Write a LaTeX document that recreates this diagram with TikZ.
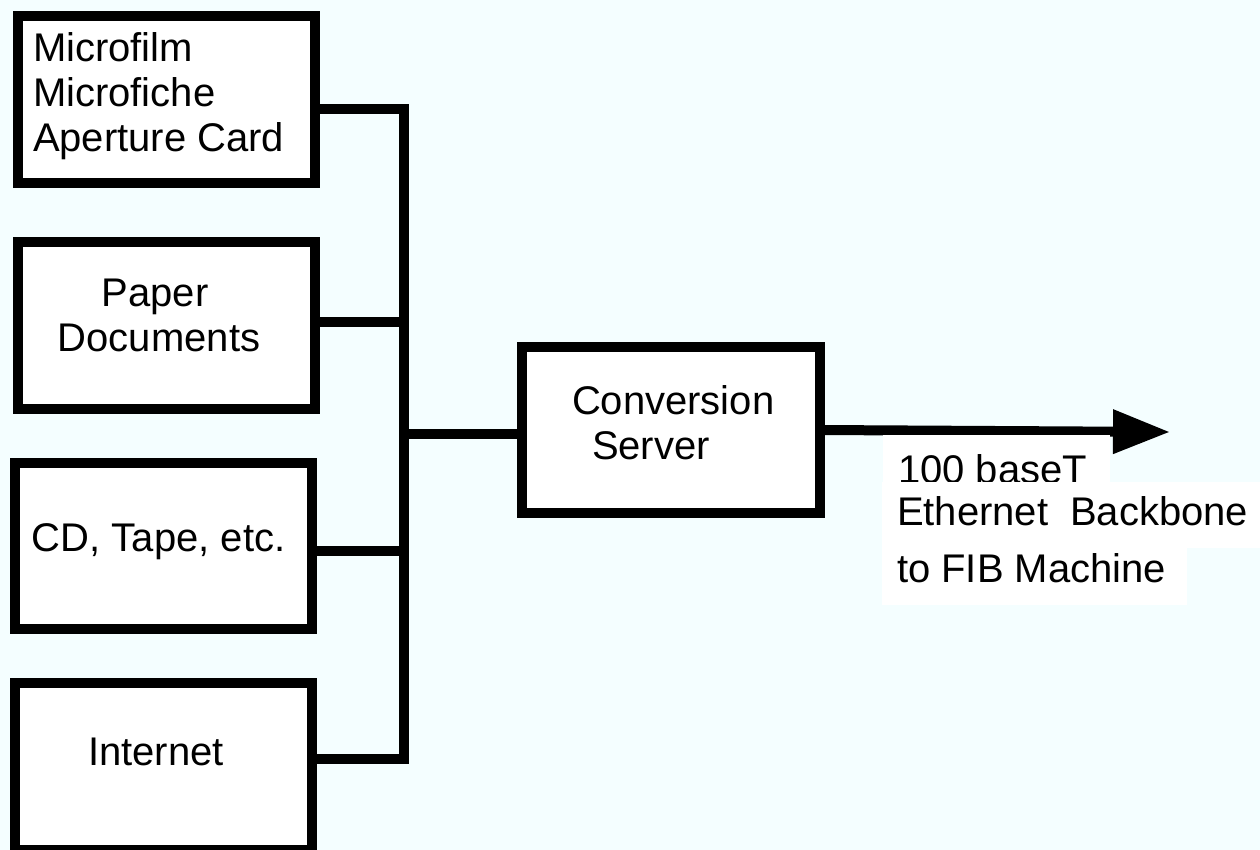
\documentclass[tikz,border=0pt]{standalone}
\usepackage{fontspec}
\setmainfont{Liberation Sans}
\usetikzlibrary{arrows.meta}
\definecolor{paper}{HTML}{F4FEFF}
\begin{document}
\begin{tikzpicture}[x=0.5pt,y=-0.5pt,
  srcbox/.style={draw, line width=5pt, fill=white, inner sep=0pt, outer sep=0pt,
                 minimum width=148.5pt, minimum height=83.5pt},
  txt/.style={inner sep=0pt, outer sep=0pt, font=\fontsize{20pt}{22.5pt}\selectfont},
  wire/.style={line width=5pt},
  bus/.style={line width=5pt, line cap=rect}]
\useasboundingbox (0,0) rectangle (1260,850);
\fill[paper] (0,0) rectangle (1260,850);

% source boxes
\node[srcbox] (b1) at (166.5,99.5) {};
\node[srcbox] (b2) at (166.5,325.5) {};
\node[srcbox, minimum height=83pt] (b3) at (163.5,546) {};
\node[srcbox] (b4) at (163.5,766.5) {};
% conversion server
\node[srcbox, minimum width=149pt, minimum height=83pt] (srv) at (671,430) {};

% box texts
\node[txt, anchor=base west] (m1) at (33,62) {Microfilm};
\node[txt, anchor=base west] (m2) at (33,107) {Microfiche};
\node[txt, anchor=base west] (m3) at (33,152) {Aperture Card};
\node[txt, anchor=base] (p1) at (155,307) {Paper};
\node[txt, anchor=base] (p2) at (159,352) {Documents};
\node[txt, anchor=base west] (cd) at (32,552) {CD, Tape, etc.};
\node[txt, anchor=base] (in) at (156,765) {Internet};
\node[txt, anchor=base west] (s1) at (572,415) {Conversion};
\node[txt, anchor=base west] (s2) at (592,460) {Server};

% junction points on the collecting bus
\coordinate (j1) at (404,109);
\coordinate (j2) at (404,322);
\coordinate (j3) at (404,551);
\coordinate (j4) at (404,759);
\coordinate (jm) at (404,434);

\draw[wire] (j1 -| b1.east) -- (j1);
\draw[wire] (j2 -| b2.east) -- (j2);
\draw[wire] (j3 -| b3.east) -- (j3);
\draw[wire] (j4 -| b4.east) -- (j4);
\draw[bus] (j1) -- (j4);
\draw[wire] (jm) -- (jm -| srv.west);

% outgoing backbone
\coordinate (tip) at (1170,432);
\draw[wire, -{Triangle[length=28.5pt,width=21pt]}] (srv.east) -- (tip);

% backbone label on white patches
\fill[white] (883,435) rectangle (1110,482);
\node[txt, anchor=base west] (l1) at (898,484) {100 baseT};
\fill[white] (882,482) rectangle (1260,548);
\node[txt, anchor=base west] (l2) at (897,525) {Ethernet\hspace{0.55em}Backbone};
\fill[white] (882,548) rectangle (1187,605);
\node[txt, anchor=base west] (l3) at (897,582) {to FIB Machine};
\end{tikzpicture}
\end{document}
